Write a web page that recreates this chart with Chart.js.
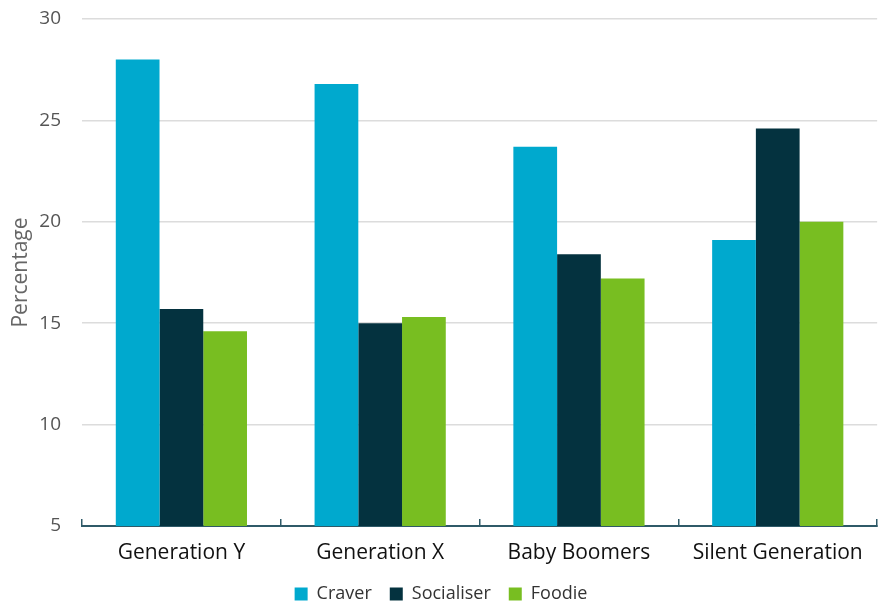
<!DOCTYPE html>
<html>
<head>
<meta charset="utf-8">
<script src="https://cdn.jsdelivr.net/npm/chart.js@4/dist/chart.umd.min.js"></script>
<style>
  html, body { margin: 0; padding: 0; background: #fff; }
  #wrap { width: 884px; height: 602px; }
</style>
</head>
<body>
<div id="wrap"><canvas id="segments" width="884" height="602"></canvas></div>
<script>
const generations = ['Generation Y', 'Generation X', 'Baby Boomers', 'Silent Generation'];
const craver = [28.0, 26.8, 23.7, 19.1];
const socialiser = [15.7, 15.0, 18.4, 24.6];
const foodie = [14.6, 15.3, 17.2, 20.0];
const yTicks = [5, 10, 15, 20, 25, 30];

const FONT = "'Open Sans', 'Noto Sans', sans-serif";

new Chart(document.getElementById('segments'), {
    type: 'bar',
    data: {
        labels: generations,
        datasets: [
            { label: 'Craver', data: craver, backgroundColor: '#00a9ce' },
            { label: 'Socialiser', data: socialiser, backgroundColor: '#04323f' },
            { label: 'Foodie', data: foodie, backgroundColor: '#78be21' }
        ]
    },
    options: {
        responsive: false,
        animation: false,
        categoryPercentage: 0.66,
        barPercentage: 1.0,
        // legend sits low, close to the bottom edge
        layout: { padding: { top: 19, right: 2, left: 0, bottom: -11 } },
        plugins: {
            tooltip: { enabled: false },
            legend: {
                position: 'bottom',
                labels: {
                    boxWidth: 13,
                    boxHeight: 13,
                    padding: 18,
                    color: '#333',
                    font: { family: FONT, size: 18 }
                }
            }
        },
        scales: {
            x: {
                afterFit: axis => { axis.height = 41; },
                grid: {
                    offset: true,
                    drawOnChartArea: false,
                    tickLength: -7,
                    color: '#2f5a68',
                    lineWidth: 1.5
                },
                border: { color: '#2f5a68', width: 2 },
                ticks: {
                    color: '#111',
                    padding: 21,
                    font: { family: FONT, size: 21 }
                }
            },
            y: {
                min: 5,
                max: 30,
                afterBuildTicks: axis => { axis.ticks = yTicks.map(v => ({ value: v })); },
                afterFit: axis => { axis.width = 82; },
                grid: {
                    color: ctx => ctx.tick && ctx.tick.value === 5 ? 'rgba(0,0,0,0)' : '#dcdcdc',
                    lineWidth: 1.5,
                    drawTicks: true,
                    tickLength: 17,
                    tickColor: 'rgba(0,0,0,0)'
                },
                border: { display: false },
                ticks: {
                    color: '#555',
                    padding: 4,
                    font: { family: FONT, size: 19 }
                },
                title: {
                    display: true,
                    text: 'Percentage',
                    color: '#666',
                    padding: { top: 8, bottom: 1 },
                    font: { family: FONT, size: 21 }
                }
            }
        }
    }
});
</script>
</body>
</html>
